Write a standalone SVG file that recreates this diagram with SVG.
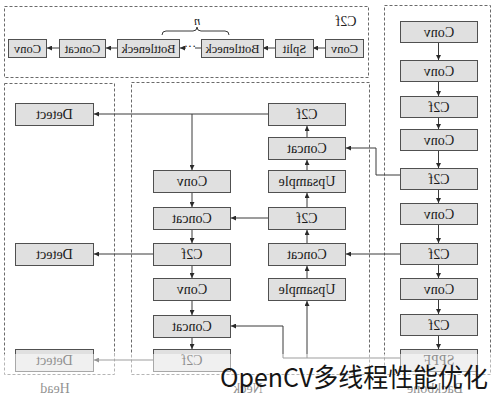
<svg xmlns="http://www.w3.org/2000/svg" width="494" height="400" viewBox="0 0 494 400">
<style>
.bg{fill:#ffffff}
.box{fill:#e0e0e0;stroke:#505050;stroke-width:1}
.t{font-family:"Liberation Serif","Times New Roman",serif;font-size:14px;fill:#1a1a1a;text-anchor:middle}
.ts{font-family:"Liberation Serif","Times New Roman",serif;font-size:12.5px;fill:#1a1a1a;text-anchor:middle}
.lbl{font-family:"Liberation Serif","Times New Roman",serif;font-size:14px;fill:#222;text-anchor:middle}
.region{fill:none;stroke:#6a6a6a;stroke-width:1;stroke-dasharray:3 2}
.c{fill:none;stroke:#3a3a3a;stroke-width:1}
.ca{fill:none;stroke:#3a3a3a;stroke-width:1;marker-end:url(#ah)}
.wm{font-family:"Noto Sans CJK SC","Noto Sans",sans-serif;font-size:26px;fill:#151515}
</style>
<defs>
<marker id="ah" viewBox="0 0 10 10" refX="10" refY="5" markerWidth="6" markerHeight="5" markerUnits="userSpaceOnUse" orient="auto">
<path d="M0,0 L10,5 L0,10 z" fill="#2a2a2a"/>
</marker>
</defs>
<rect class="bg" x="0" y="0" width="494" height="400"/>

<g id="regions">
<rect id="region-c2f" class="region" x="4.5" y="6.5" width="364" height="71"/>
<rect id="region-backbone" class="region" x="384.5" y="5.5" width="106" height="369"/>
<rect id="region-neck" class="region" x="131.5" y="82.5" width="238" height="292"/>
<rect id="region-head" class="region" x="4.5" y="83.5" width="110" height="291"/>
<text class="lbl" x="346" y="26" font-size="15" transform="matrix(-1 0 0 1 692 0)">C2f</text>
<text class="lbl" x="55" y="393" transform="matrix(-1 0 0 1 110 0)">Head</text>
<text class="lbl" x="248" y="393" transform="matrix(-1 0 0 1 496 0)">Neck</text>
<text class="lbl" x="435" y="393" transform="matrix(-1 0 0 1 870 0)">Backbone</text>
</g>

<g id="connectors">
<path class="ca" d="M325,48 H313"/>
<path class="ca" d="M275,48 H263"/>
<path class="c" d="M201,48 H195"/>
<path class="ca" d="M186,48 H180"/>
<path class="ca" d="M117,48 H106"/>
<path class="ca" d="M59,48 H47"/>
<path class="c" d="M162,35 Q162,31 166,31 H193 Q197,31 197,27 Q197,31 201,31 H225 Q229,31 229,35"/>
<path class="ca" d="M438.5,43 V60"/>
<path class="ca" d="M438.5,82 V96"/>
<path class="ca" d="M438.5,118 V129"/>
<path class="ca" d="M438.5,151 V168"/>
<path class="ca" d="M438.5,190 V203"/>
<path class="ca" d="M438.5,225 V243"/>
<path class="ca" d="M438.5,265 V278"/>
<path class="ca" d="M438.5,300 V314"/>
<path class="ca" d="M438.5,336 V349"/>
<path class="ca" d="M400,175 H376 V148 H346"/>
<path class="ca" d="M400,254 H346"/>
<path class="ca" d="M400,358 H283 V326 H231"/>
<path class="ca" d="M307,358 V301"/>
<path class="ca" d="M307,278 V266"/>
<path class="ca" d="M307,243 V230"/>
<path class="ca" d="M307,207 V193"/>
<path class="ca" d="M307,170 V160"/>
<path class="ca" d="M307,137 V126"/>
<path class="ca" d="M268,218 H231"/>
<path class="ca" d="M268,114 H94"/>
<path class="ca" d="M192,114 V170"/>
<path class="ca" d="M192,193 V207"/>
<path class="ca" d="M192,230 V243"/>
<path class="ca" d="M192,266 V278"/>
<path class="ca" d="M192,301 V315"/>
<path class="ca" d="M192,338 V349"/>
<path class="ca" d="M153,254 H94"/>
<path class="ca" d="M153,360 H94"/>
</g>

<g id="c2f-detail">
<g id="d-conv-l"><rect class="box" x="8.5" y="39.5" width="38" height="18"/><text class="ts" x="27.5" y="52.5" transform="matrix(-1 0 0 1 55 0)">Conv</text></g>
<g id="d-concat"><rect class="box" x="59.5" y="39.5" width="46" height="18"/><text class="ts" x="82.5" y="52.5" transform="matrix(-1 0 0 1 165 0)">Concat</text></g>
<g id="d-bottleneck-l"><rect class="box" x="117.5" y="39.5" width="62" height="18"/><text class="ts" x="148.5" y="52.5" transform="matrix(-1 0 0 1 297 0)">Bottleneck</text></g>
<text class="ts" x="190" y="50" transform="matrix(-1 0 0 1 380 0)">···</text>
<text class="ts" x="197" y="25" font-style="italic" transform="matrix(-1 0 0 1 394 0)">n</text>
<g id="d-bottleneck-r"><rect class="box" x="201.5" y="39.5" width="62" height="18"/><text class="ts" x="232.5" y="52.5" transform="matrix(-1 0 0 1 465 0)">Bottleneck</text></g>
<g id="d-split"><rect class="box" x="275.5" y="39.5" width="38" height="18"/><text class="ts" x="294.5" y="52.5" transform="matrix(-1 0 0 1 589 0)">Split</text></g>
<g id="d-conv-r"><rect class="box" x="325.5" y="39.5" width="38" height="18"/><text class="ts" x="344.5" y="52.5" transform="matrix(-1 0 0 1 689 0)">Conv</text></g>
</g>

<g id="backbone">
<g id="b1"><rect class="box" x="400.5" y="21.5" width="77" height="21"/><text class="t" x="439" y="36.5" transform="matrix(-1 0 0 1 878 0)">Conv</text></g>
<g id="b2"><rect class="box" x="400.5" y="60.5" width="77" height="21"/><text class="t" x="439" y="75.5" transform="matrix(-1 0 0 1 878 0)">Conv</text></g>
<g id="b3"><rect class="box" x="400.5" y="96.5" width="77" height="21"/><text class="t" x="439" y="111.5" transform="matrix(-1 0 0 1 878 0)">C2f</text></g>
<g id="b4"><rect class="box" x="400.5" y="129.5" width="77" height="21"/><text class="t" x="439" y="144.5" transform="matrix(-1 0 0 1 878 0)">Conv</text></g>
<g id="b5"><rect class="box" x="400.5" y="168.5" width="77" height="21"/><text class="t" x="439" y="183.5" transform="matrix(-1 0 0 1 878 0)">C2f</text></g>
<g id="b6"><rect class="box" x="400.5" y="203.5" width="77" height="21"/><text class="t" x="439" y="218.5" transform="matrix(-1 0 0 1 878 0)">Conv</text></g>
<g id="b7"><rect class="box" x="400.5" y="243.5" width="77" height="21"/><text class="t" x="439" y="258.5" transform="matrix(-1 0 0 1 878 0)">C2f</text></g>
<g id="b8"><rect class="box" x="400.5" y="278.5" width="77" height="21"/><text class="t" x="439" y="293.5" transform="matrix(-1 0 0 1 878 0)">Conv</text></g>
<g id="b9"><rect class="box" x="400.5" y="314.5" width="77" height="21"/><text class="t" x="439" y="329.5" transform="matrix(-1 0 0 1 878 0)">C2f</text></g>
<g id="b10"><rect class="box" x="400.5" y="349.5" width="77" height="22"/><text class="t" x="439" y="365" transform="matrix(-1 0 0 1 878 0)">SPPF</text></g>
</g>

<g id="neck">
<g id="n-r1"><rect class="box" x="268.5" y="103.5" width="77" height="22"/><text class="t" x="307" y="119" transform="matrix(-1 0 0 1 614 0)">C2f</text></g>
<g id="n-r2"><rect class="box" x="268.5" y="137.5" width="77" height="22"/><text class="t" x="307" y="153" transform="matrix(-1 0 0 1 614 0)">Concat</text></g>
<g id="n-r3"><rect class="box" x="268.5" y="170.5" width="77" height="22"/><text class="t" x="307" y="186" transform="matrix(-1 0 0 1 614 0)">Upsample</text></g>
<g id="n-r4"><rect class="box" x="268.5" y="207.5" width="77" height="22"/><text class="t" x="307" y="223" transform="matrix(-1 0 0 1 614 0)">C2f</text></g>
<g id="n-r5"><rect class="box" x="268.5" y="243.5" width="77" height="22"/><text class="t" x="307" y="259" transform="matrix(-1 0 0 1 614 0)">Concat</text></g>
<g id="n-r6"><rect class="box" x="268.5" y="278.5" width="77" height="22"/><text class="t" x="307" y="294" transform="matrix(-1 0 0 1 614 0)">Upsample</text></g>
<g id="n-l1"><rect class="box" x="153.5" y="170.5" width="77" height="22"/><text class="t" x="192" y="186" transform="matrix(-1 0 0 1 384 0)">Conv</text></g>
<g id="n-l2"><rect class="box" x="153.5" y="207.5" width="77" height="22"/><text class="t" x="192" y="223" transform="matrix(-1 0 0 1 384 0)">Concat</text></g>
<g id="n-l3"><rect class="box" x="153.5" y="243.5" width="77" height="22"/><text class="t" x="192" y="259" transform="matrix(-1 0 0 1 384 0)">C2f</text></g>
<g id="n-l4"><rect class="box" x="153.5" y="278.5" width="77" height="22"/><text class="t" x="192" y="294" transform="matrix(-1 0 0 1 384 0)">Conv</text></g>
<g id="n-l5"><rect class="box" x="153.5" y="315.5" width="77" height="22"/><text class="t" x="192" y="331" transform="matrix(-1 0 0 1 384 0)">Concat</text></g>
<g id="n-l6"><rect class="box" x="153.5" y="349.5" width="77" height="22"/><text class="t" x="192" y="365" transform="matrix(-1 0 0 1 384 0)">C2f</text></g>
</g>

<g id="head">
<g id="h1"><rect class="box" x="15.5" y="103.5" width="78" height="22"/><text class="t" x="54.5" y="119" transform="matrix(-1 0 0 1 109 0)">Detect</text></g>
<g id="h2"><rect class="box" x="15.5" y="243.5" width="78" height="22"/><text class="t" x="54.5" y="259" transform="matrix(-1 0 0 1 109 0)">Detect</text></g>
<g id="h3"><rect class="box" x="15.5" y="349.5" width="78" height="22"/><text class="t" x="54.5" y="365" transform="matrix(-1 0 0 1 109 0)">Detect</text></g>
</g>

<rect id="fade" x="0" y="354" width="494" height="46" fill="#ffffff" opacity="0.5"/>
<text id="watermark" class="wm" x="220" y="387" textLength="268" lengthAdjust="spacingAndGlyphs">OpenCV多线程性能优化</text>
</svg>
